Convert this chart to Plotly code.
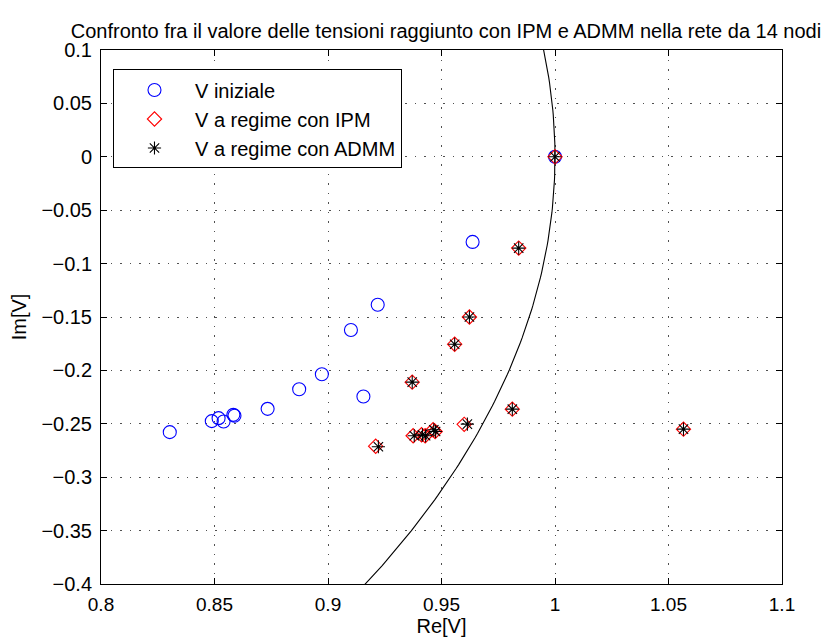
import numpy as np
import plotly.graph_objects as go

# V iniziale
v0_re = [1.000, 0.9637, 0.9219, 0.9101, 0.8973, 0.9156, 0.8873, 0.8734, 0.8583, 0.8588, 0.8540, 0.8518, 0.8488, 0.8303]
v0_im = [0.000, -0.0797, -0.1385, -0.1622, -0.2036, -0.2245, -0.2176, -0.2360, -0.2416, -0.2425, -0.2478, -0.2447, -0.2475, -0.2578]

# V a regime con IPM
ipm_re = [1.000, 0.9840, 0.9558, 0.9623, 0.9371, 0.9812, 0.9600, 0.9210, 0.9375, 0.9412, 0.9428, 0.9463, 0.9472, 1.0566]
ipm_im = [0.000, -0.0855, -0.1755, -0.1500, -0.2110, -0.2363, -0.2505, -0.2710, -0.2612, -0.2603, -0.2612, -0.2556, -0.2572, -0.2550]

# V a regime con ADMM
admm_re = [1.000, 0.9840, 0.9558, 0.9623, 0.9371, 0.9812, 0.9614, 0.9222, 0.9380, 0.9416, 0.9430, 0.9466, 0.9474, 1.0566]
admm_im = [0.000, -0.0855, -0.1755, -0.1500, -0.2110, -0.2363, -0.2503, -0.2715, -0.2612, -0.2603, -0.2612, -0.2556, -0.2572, -0.2550]

x_ticks = [0.8, 0.85, 0.9, 0.95, 1.0, 1.05, 1.1]
x_labels = ["0.8", "0.85", "0.9", "0.95", "1", "1.05", "1.1"]
y_ticks = [0.1, 0.05, 0.0, -0.05, -0.1, -0.15, -0.2, -0.25, -0.3, -0.35, -0.4]
y_labels = ["0.1", "0.05", "0", "\u22120.05", "\u22120.1", "\u22120.15", "\u22120.2", "\u22120.25", "\u22120.3", "\u22120.35", "\u22120.4"]

# unit circle |V| = 1
radius = 1.0
theta = np.linspace(-np.pi / 2, np.pi / 2, 721)
circ_x = radius * np.cos(theta)
circ_y = radius * np.sin(theta)

FONT = "Liberation Sans, Arial, Helvetica, sans-serif"
FS = 20

fig = go.Figure()
fig.add_trace(go.Scatter(x=circ_x, y=circ_y, mode="lines", line=dict(color="black", width=1.1),
                         showlegend=False, hoverinfo="skip"))
fig.add_trace(go.Scatter(x=v0_re, y=v0_im, mode="markers", name="V iniziale", legendgroup="a",
                         marker=dict(symbol="circle-open", size=13, color="blue", line=dict(width=1.1))))
fig.add_trace(go.Scatter(x=ipm_re, y=ipm_im, mode="markers", name="V a regime con IPM", legendgroup="b",
                         marker=dict(symbol="diamond-open", size=11, color="red", line=dict(width=1.1))))
fig.add_trace(go.Scatter(x=admm_re, y=admm_im, mode="markers", name="V a regime con ADMM", legendgroup="c",
                         marker=dict(symbol="asterisk-open", size=11, color="black", line=dict(width=1.1))))

axis_common = dict(
    showline=True, linecolor="black", linewidth=1, mirror="ticks",
    ticks="inside", ticklen=6, tickcolor="black", tickwidth=1,
    showgrid=True, gridcolor="rgb(80,80,80)", griddash="1.5px,8px", gridwidth=1,
    zeroline=False, automargin=False,
)

fig.update_xaxes(range=[0.8, 1.1], tickvals=x_ticks, ticktext=x_labels,
                 tickfont=dict(family=FONT, size=19, color="black"),
                 title=dict(text="Re[V]", font=dict(family=FONT, size=FS, color="black"), standoff=2),
                 ticklabelstandoff=3, **axis_common)
fig.update_yaxes(range=[-0.4, 0.1], tickvals=y_ticks, ticktext=y_labels,
                 tickfont=dict(family=FONT, size=FS, color="black"),
                 title=dict(text="Im[V]", font=dict(family=FONT, size=FS, color="black"), standoff=9),
                 ticklabelstandoff=4, **axis_common)

fig.update_layout(
    width=827, height=629,
    margin=dict(l=93, r=53, t=42, b=53),
    paper_bgcolor="white", plot_bgcolor="white",
    font=dict(family=FONT, size=FS, color="black"),
    title=dict(text="Confronto fra il valore delle tensioni raggiunto con IPM e ADMM nella rete da 14 nodi",
               x=0.5296, xanchor="center", y=0.964, yanchor="middle",
               font=dict(family=FONT, size=20, color="black")),
    legend=dict(x=0.0176, y=0.9635, xanchor="left", yanchor="top",
                bgcolor="white", bordercolor="black", borderwidth=1,
                font=dict(family=FONT, size=FS, color="black"),
                tracegroupgap=0, itemwidth=71),
    showlegend=True,
)

fig.write_html("out.html")
